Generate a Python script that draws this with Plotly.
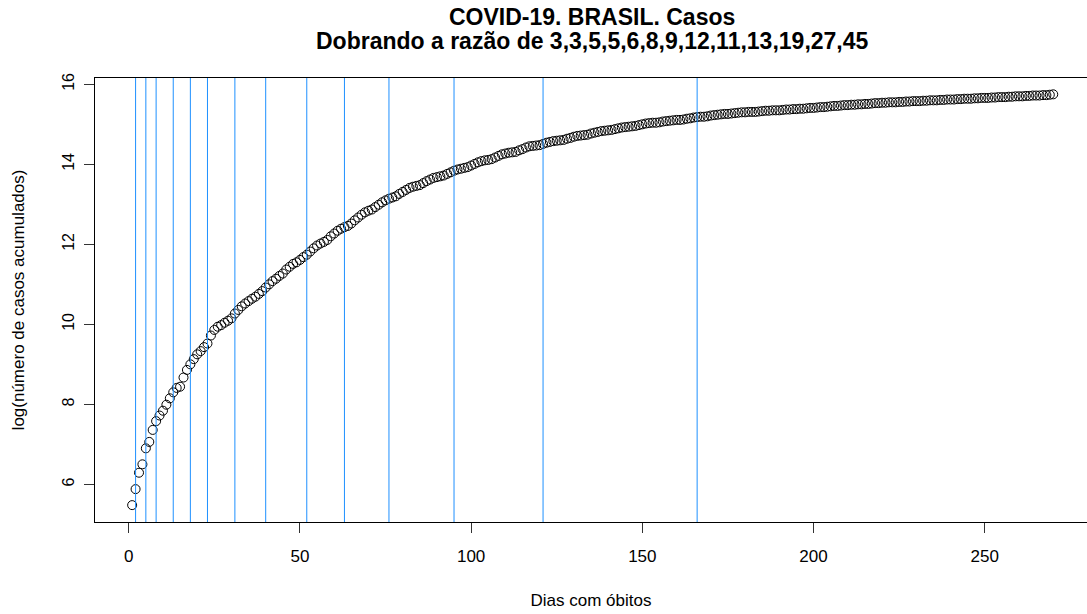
import plotly.graph_objects as go

# ---- data ----
dias = list(range(1, 271))
log_casos = [
    5.48, 5.88, 6.29, 6.50, 6.90, 7.06, 7.36, 7.58, 7.72, 7.84,
    7.99, 8.15, 8.30, 8.41, 8.44, 8.67, 8.86, 9.00, 9.13, 9.25,
    9.33, 9.43, 9.52, 9.72, 9.86, 9.94, 9.98, 10.04, 10.09, 10.15,
    10.27, 10.36, 10.45, 10.52, 10.58, 10.64, 10.69, 10.76, 10.83, 10.92,
    11.00, 11.08, 11.14, 11.21, 11.27, 11.37, 11.44, 11.51, 11.55, 11.61,
    11.68, 11.74, 11.82, 11.90, 11.97, 12.02, 12.06, 12.11, 12.20, 12.27,
    12.34, 12.39, 12.43, 12.46, 12.52, 12.60, 12.67, 12.74, 12.80, 12.84,
    12.87, 12.93, 12.99, 13.05, 13.10, 13.14, 13.17, 13.20, 13.26, 13.31,
    13.36, 13.41, 13.44, 13.46, 13.48, 13.53, 13.58, 13.62, 13.66, 13.68,
    13.70, 13.72, 13.76, 13.80, 13.84, 13.87, 13.89, 13.91, 13.93, 13.97,
    14.01, 14.05, 14.08, 14.10, 14.11, 14.13, 14.17, 14.21, 14.25, 14.27,
    14.29, 14.30, 14.31, 14.35, 14.38, 14.42, 14.45, 14.46, 14.47, 14.48,
    14.51, 14.54, 14.56, 14.58, 14.59, 14.60, 14.61, 14.64, 14.66, 14.69,
    14.71, 14.72, 14.73, 14.74, 14.77, 14.79, 14.81, 14.83, 14.84, 14.85,
    14.86, 14.88, 14.90, 14.92, 14.93, 14.94, 14.95, 14.96, 14.98, 15.00,
    15.02, 15.03, 15.04, 15.04, 15.05, 15.07, 15.08, 15.09, 15.10, 15.11,
    15.11, 15.12, 15.14, 15.15, 15.17, 15.18, 15.19, 15.19, 15.20, 15.22,
    15.23, 15.24, 15.25, 15.26, 15.26, 15.27, 15.28, 15.29, 15.30, 15.30,
    15.31, 15.31, 15.31, 15.32, 15.33, 15.34, 15.34, 15.35, 15.35, 15.35,
    15.36, 15.37, 15.37, 15.38, 15.38, 15.39, 15.39, 15.40, 15.41, 15.41,
    15.42, 15.43, 15.43, 15.44, 15.45, 15.46, 15.46, 15.47, 15.48, 15.48,
    15.49, 15.49, 15.50, 15.50, 15.51, 15.51, 15.52, 15.53, 15.53, 15.54,
    15.54, 15.55, 15.55, 15.55, 15.56, 15.56, 15.57, 15.57, 15.58, 15.58,
    15.58, 15.59, 15.59, 15.60, 15.60, 15.60, 15.61, 15.61, 15.62, 15.62,
    15.62, 15.63, 15.63, 15.64, 15.64, 15.64, 15.65, 15.65, 15.66, 15.66,
    15.66, 15.67, 15.67, 15.68, 15.68, 15.68, 15.69, 15.69, 15.70, 15.70,
    15.70, 15.71, 15.71, 15.72, 15.72, 15.72, 15.73, 15.73, 15.74, 15.75,
]
dias_dobra = [2, 5, 8, 13, 18, 23, 31, 40, 52, 63, 76, 95, 121, 166]
razoes = [3, 3, 5, 5, 6, 8, 9, 12, 11, 13, 19, 27, 45]
x_ticks = [0, 50, 100, 150, 200, 250]
y_ticks = [6, 8, 10, 12, 14, 16]

titulo_1 = "<b>COVID-19. BRASIL. Casos</b>"
titulo_2 = "<b>Dobrando a razão de " + ",".join(str(r) for r in razoes) + "</b>"

FONT = "Liberation Sans, Arial, Helvetica, sans-serif"

W, H = 1087, 614
L, T, B = 95, 78, 92
plot_h = H - T - B


def paper_y(fig_y):
    return (H - B - fig_y) / plot_h


fig = go.Figure()
fig.add_trace(go.Scatter(
    x=dias, y=log_casos, mode="markers",
    marker=dict(symbol="circle-open", size=9, color="black",
                line=dict(width=1, color="black")),
    showlegend=False, hoverinfo="x+y",
))

for d in dias_dobra:
    fig.add_vline(x=d, line_color="#1E90FF", line_width=1, layer="above")

fig.add_annotation(text=titulo_1, xref="paper", yref="paper",
                   x=0.5015, y=paper_y(17), xanchor="center", yanchor="middle",
                   showarrow=False, font=dict(family=FONT, size=23, color="black"))
fig.add_annotation(text=titulo_2, xref="paper", yref="paper",
                   x=0.5015, y=paper_y(41), xanchor="center", yanchor="middle",
                   showarrow=False, font=dict(family=FONT, size=23, color="black"))

fig.update_layout(
    width=W, height=H,
    margin=dict(l=L, r=0, t=T, b=B, autoexpand=False),
    paper_bgcolor="white", plot_bgcolor="white",
    font=dict(family=FONT, color="black", size=16),
    xaxis=dict(
        range=[-9.85, 279.86], tickvals=x_ticks, automargin=False,
        showgrid=False, zeroline=False,
        showline=True, linecolor="black", linewidth=1, mirror=True,
        ticks="outside", ticklen=10, tickcolor="#333", tickwidth=1,
        tickfont=dict(size=17), ticklabelstandoff=9,
        title=dict(text="Dias com óbitos", font=dict(size=17), standoff=28),
    ),
    yaxis=dict(
        range=[5.058, 16.158], tickvals=y_ticks, tickangle=-90, automargin=False,
        showgrid=False, zeroline=False,
        showline=True, linecolor="black", linewidth=1, mirror=False,
        ticks="outside", ticklen=10, tickcolor="#333", tickwidth=1,
        tickfont=dict(size=16), ticklabelstandoff=4,
        title=dict(text="log(número de casos acumulados)", font=dict(size=17),
                   standoff=30),
    ),
)

fig.write_html(
    "out.html",
    config={"displayModeBar": False},
    post_script="document.body.style.margin='0';document.body.style.overflow='hidden';",
)
